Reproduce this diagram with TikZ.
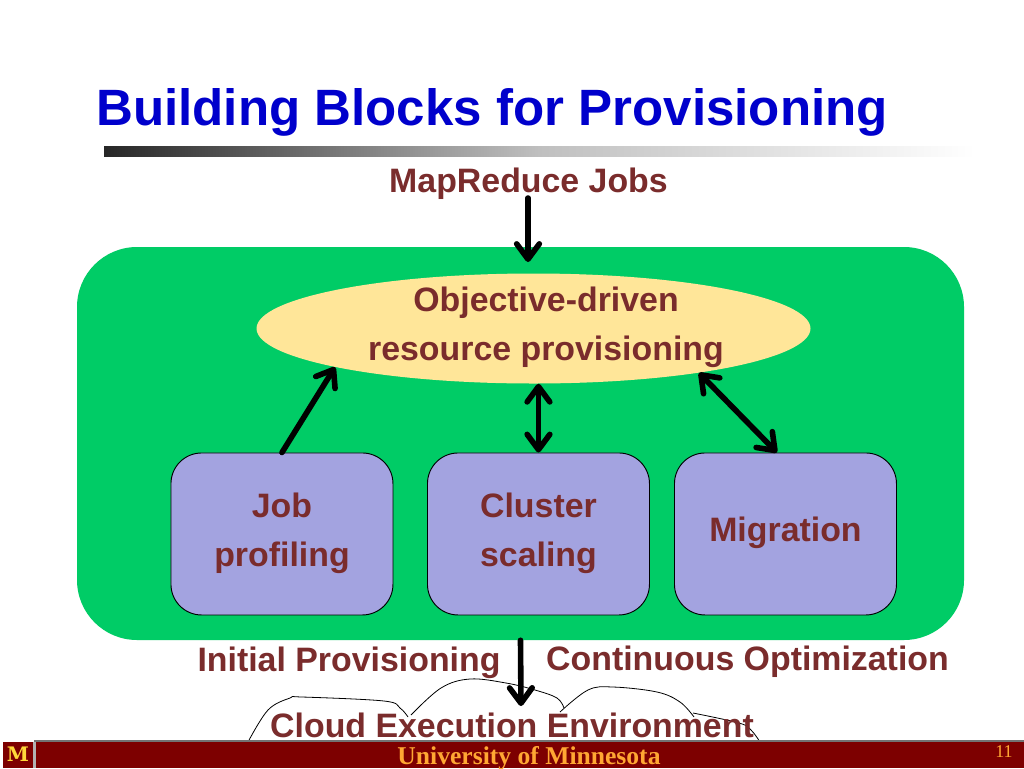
\documentclass[tikz,border=0pt]{standalone}
\usepackage{fontspec}
\setmainfont{Liberation Sans}
\newfontfamily\serifface{Liberation Serif}
\newfontfamily\logoface{DejaVu Serif}
\usetikzlibrary{shapes.geometric,arrows.meta}
\definecolor{titleblue}{HTML}{0000CC}
\definecolor{labelred}{HTML}{7A2C2C}
\definecolor{panelgreen}{HTML}{00CC66}
\definecolor{ovalyellow}{HTML}{FFE699}
\definecolor{boxblue}{HTML}{A3A3E0}
\definecolor{barred}{HTML}{7D0000}
\definecolor{barorange}{HTML}{FFA733}
\definecolor{logoyellow}{HTML}{FFD83A}
\tikzset{
  fatbarb/.tip={Straight Barb[round,length=11.5pt,width=17pt,line width=4.2pt]},
  lbl/.style={font=\fontsize{25.4pt}{30pt}\bfseries\selectfont,text=labelred,inner sep=0pt},
  blockbox/.style={draw=black,line width=0.7pt,fill=boxblue,rounded corners=23pt,minimum width=166.5pt,minimum height=121.5pt,inner sep=0pt,anchor=north west},
  linetext/.style={lbl,align=center},
  fatarrow/.style={draw=black,line width=4.2pt,line cap=round},
  cloudline/.style={draw=black,line width=0.6pt},
}
\begin{document}
\begin{tikzpicture}[x=0.75pt,y=-0.75pt]
\useasboundingbox (0,0) rectangle (1024,768);
\fill[white] (0,0) rectangle (1024,768);
\node[font=\fontsize{38.3pt}{44pt}\bfseries\selectfont,text=titleblue,inner sep=0pt] (title) at (492,112) {Building Blocks for Provisioning};
\shade[left color=black!85,right color=white,middle color=black!25] (104,146) rectangle (975,156);
\node[draw=none,fill=panelgreen,rounded corners=45pt,minimum width=665.25pt,minimum height=294.75pt,inner sep=0pt] (panel) at (520.5,443.5) {};
\node[ellipse,fill=ovalyellow,minimum width=415.5pt,minimum height=82.5pt,inner sep=0pt] (oval) at (533.5,328.5) {};
\node[linetext] (ovaltext) at (546,327) {Objective-driven\\[6.8pt]resource provisioning};
\node[blockbox] (job) at (170.5,452.5) {};
\node[blockbox] (cluster) at (427,452.5) {};
\node[blockbox] (migration) at (674,452.5) {};
\node[linetext] (jobtext) at ([yshift=0.75pt]job.center) {Job\\[6.8pt]profiling};
\node[linetext] (clustertext) at ([yshift=0.75pt]cluster.center) {Cluster\\[6.8pt]scaling};
\node[lbl] (migrationtext) at ([yshift=0.75pt]migration.center) {Migration};
\node[lbl] (jobs) at (528.5,184) {MapReduce Jobs};
\node[lbl] (initial) at (349,663) {Initial Provisioning};
\node[lbl] (continuous) at (747.5,662) {Continuous Optimization};
\coordinate (jobsfoot) at (528,198);
\coordinate (ovaltop) at (528,262);
\coordinate (cloudtop) at (521,706);
\draw[cloudline] plot[smooth,tension=0.6] coordinates {(248,742) (268,710) (290,698) (302,697) (384,701) (400,708) (408,717)};
\draw[cloudline] plot[smooth,tension=0.6] coordinates {(411,715) (441,688) (470,679) (506,683) (535,690) (557,698) (564,708)};
\draw[cloudline] plot[smooth,tension=0.6] coordinates {(560,712) (588,690) (613,687) (657,692) (680,702) (694,717)};
\draw[cloudline] plot[smooth,tension=0.6] coordinates {(693,713) (739,723) (751,730) (760,742)};
\draw[fatarrow,-fatbarb] (jobsfoot) -- (ovaltop);
\draw[fatarrow,-fatbarb] (job.north) -- (oval.191);
\draw[fatarrow,fatbarb-fatbarb] (cluster.north) -- (cluster.north |- oval.south);
\draw[fatarrow,fatbarb-fatbarb] (migration.96) -- (oval.-15.7);
\draw[fatarrow,-fatbarb] (panel.south) -- (cloudtop);
\node[lbl] (cloud) at (512,725.5) {Cloud Execution Environment};
\fill[black!55] (34,740) rectangle (1024,742);
\fill[black!30] (33,742) rectangle (36,768);
\fill[barred] (36,742) rectangle (1024,768);
\fill[barred] (3,742) rectangle (33,768);
\node[font=\logoface\fontsize{15pt}{18pt}\bfseries\selectfont,text=logoyellow,inner sep=0pt] (logo) at (18,754.5) {M};
\node[font=\serifface\fontsize{19.2pt}{22pt}\bfseries\selectfont,text=barorange,inner sep=0pt] (uni) at (529,758.5) {University of Minnesota};
\node[font=\serifface\fontsize{13.5pt}{15pt}\selectfont,text=barorange,inner sep=0pt] (page) at (1004,752) {11};
\end{tikzpicture}
\end{document}
